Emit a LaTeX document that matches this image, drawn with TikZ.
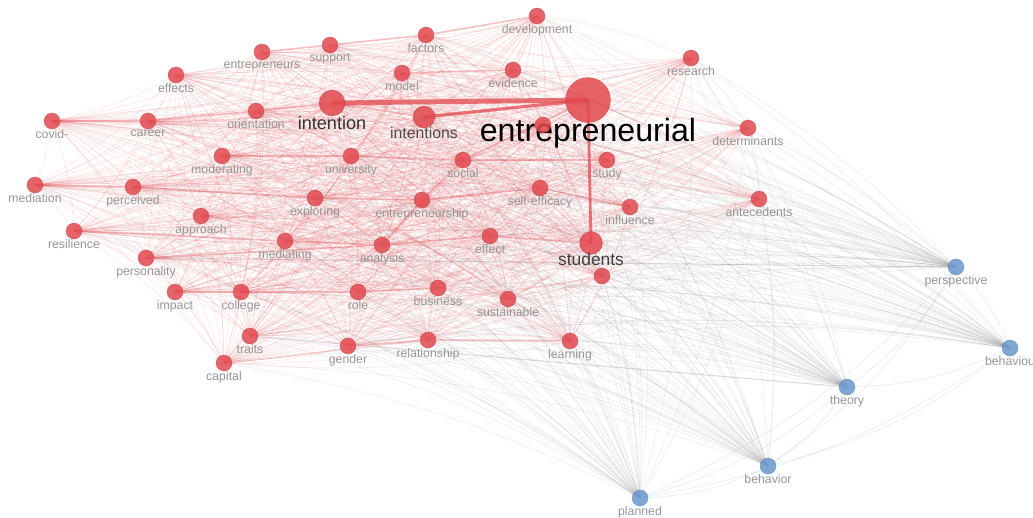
\documentclass[tikz,border=0pt]{standalone}
\usepackage{fontspec}
\setmainfont{Liberation Sans}
\usetikzlibrary{backgrounds}

\definecolor{kwred}{RGB}{226,72,78}
\definecolor{kwblue}{RGB}{104,152,204}
\definecolor{lblgray}{RGB}{150,150,150}
\definecolor{webgray}{RGB}{135,135,140}

\tikzset{
  kw/.style={circle, fill=kwred, fill opacity=.85, draw=kwred!70!black, draw opacity=.35,
    line width=.4pt, minimum size=.32cm, inner sep=0pt},
  kwb/.style={kw, fill=kwblue, draw=kwblue!70!black},
  lbl/.style={text=lblgray, font=\fontsize{7}{8}\selectfont, inner sep=0pt, text opacity=1},
  web/.style={draw=kwred, draw opacity=.13, line width=.35pt},
  grayweb/.style={draw=webgray, draw opacity=.15, line width=.35pt},
  blueweb/.style={draw=kwblue, draw opacity=.18, line width=.35pt},
  strong/.style={draw=kwred, draw opacity=.35, line width=.9pt},
  heavy/.style={draw=kwred, draw opacity=.75, line width=2.8pt},
  graystrong/.style={draw=webgray, draw opacity=.3, line width=.6pt},
}

\begin{document}
\begin{tikzpicture}[x=0.02cm, y=-0.02cm]
    \useasboundingbox (0,0) rectangle (1033,517);

    % red cluster
    \node[kw, label={[lbl]below:development}] (development) at (537,16) {};
    \node[kw, label={[lbl]below:research}] (research) at (691,58) {};
    \node[kw, label={[lbl]below:factors}] (factors) at (426,35) {};
    \node[kw, label={[lbl]below:support}] (support) at (330,45) {};
    \node[kw, label={[lbl]below:entrepreneurs}] (entrepreneurs) at (262,52) {};
    \node[kw, label={[lbl]below:effects}] (effects) at (176,75) {};
    \node[kw, label={[lbl]below:model}] (model) at (402,73) {};
    \node[kw, label={[lbl]below:evidence}] (evidence) at (513,70) {};
    \node[kw, minimum size=.52cm, label={[lbl, text=black!80, font=\fontsize{10.3}{12}\selectfont]below:intention}] (intention) at (332,103) {};
    \node[kw, minimum size=.44cm, label={[lbl, text=black!70, font=\fontsize{9}{11}\selectfont, label distance=-1pt]below:intentions}] (intentions) at (424,117) {};
    \node[kw, minimum size=.9cm, label={[lbl, text=black, font=\fontsize{18.3}{22}\selectfont, label distance=-3pt]below:entrepreneurial}] (entrepreneurial) at (588,100) {};
    \node[kw, label={[lbl]below:orientation}] (orientation) at (256,111) {};
    \node[kw, label={[lbl]below:covid-}] (covid) at (52,121) {};
    \node[kw, label={[lbl]below:career}] (career) at (148,121) {};
    \node[kw, label={[lbl]below:determinants}] (determinants) at (748,128) {};
    \node[kw] (hid1) at (543,125) {};
    \node[kw, label={[lbl]below:moderating}] (moderating) at (222,156) {};
    \node[kw, label={[lbl]below:university}] (university) at (351,156) {};
    \node[kw, label={[lbl]below:social}] (social) at (463,160) {};
    \node[kw, label={[lbl]below:study}] (study) at (607,160) {};
    \node[kw, label={[lbl]below:mediation}] (mediation) at (35,185) {};
    \node[kw, label={[lbl]below:perceived}] (perceived) at (133,187) {};
    \node[kw, label={[lbl]below:exploring}] (exploring) at (315,198) {};
    \node[kw, label={[lbl]below:entrepreneurship}] (entrepreneurship) at (422,200) {};
    \node[kw, label={[lbl]below:self-efficacy}] (selfefficacy) at (540,188) {};
    \node[kw, label={[lbl]below:influence}] (influence) at (630,207) {};
    \node[kw, label={[lbl]below:antecedents}] (antecedents) at (759,199) {};
    \node[kw, label={[lbl]below:approach}] (approach) at (201,216) {};
    \node[kw, label={[lbl]below:resilience}] (resilience) at (74,231) {};
    \node[kw, label={[lbl]below:mediating}] (mediating) at (285,241) {};
    \node[kw, label={[lbl]below:analysis}] (analysis) at (382,245) {};
    \node[kw, label={[lbl]below:effect}] (effect) at (490,236) {};
    \node[kw, minimum size=.46cm, label={[lbl, text=black!75, font=\fontsize{9.9}{12}\selectfont, label distance=-1.5pt]below:students}] (students) at (591,243) {};
    \node[kw, label={[lbl]below:personality}] (personality) at (146,258) {};
    \node[kw] (hid2) at (602,276) {};
    \node[kw, label={[lbl]below:impact}] (impact) at (175,292) {};
    \node[kw, label={[lbl]below:college}] (college) at (241,292) {};
    \node[kw, label={[lbl]below:role}] (role) at (358,292) {};
    \node[kw, label={[lbl]below:business}] (business) at (438,288) {};
    \node[kw, label={[lbl]below:sustainable}] (sustainable) at (508,299) {};
    \node[kw, label={[lbl]below:traits}] (traits) at (250,336) {};
    \node[kw, label={[lbl]below:gender}] (gender) at (348,346) {};
    \node[kw, label={[lbl]below:relationship}] (relationship) at (428,340) {};
    \node[kw, label={[lbl]below:learning}] (learning) at (570,341) {};
    \node[kw, label={[lbl]below:capital}] (capital) at (224,363) {};

    % blue cluster
    \node[kwb, label={[lbl]below:perspective}] (perspective) at (956,267) {};
    \node[kwb, label={[lbl]below:behaviou}] (behaviou) at (1010,348) {};
    \node[kwb, label={[lbl]below:theory}] (theory) at (847,387) {};
    \node[kwb, label={[lbl]below:behavior}] (behavior) at (768,466) {};
    \node[kwb, label={[lbl]below:planned}] (planned) at (640,498) {};

    \def\redkw{development,research,factors,support,entrepreneurs,effects,model,evidence,
      intention,intentions,entrepreneurial,orientation,covid,career,determinants,hid1,
      moderating,university,social,study,mediation,perceived,exploring,entrepreneurship,
      selfefficacy,influence,antecedents,approach,resilience,mediating,analysis,effect,
      students,personality,hid2,impact,college,role,business,sustainable,traits,gender,
      relationship,learning,capital}
    \def\bluekw{perspective,behaviou,theory,behavior,planned}

    \begin{pgfonlayer}{background}
    % links of the blue terms
    \foreach \a in \bluekw {
      \foreach \b in \redkw {
        \draw[grayweb] (\a.center) to[bend right=8] (\b.center);
      }
    }
    \foreach \a [count=\i] in \bluekw {
      \foreach \b [count=\j] in \bluekw {
        \ifnum\j>\i \draw[blueweb] (\a.center) to[bend left=12] (\b.center); \fi
      }
    }
    \draw[graystrong] (perspective.center) -- (personality.center);
    \draw[graystrong] (theory.center) -- (traits.center);

    % links inside the red cluster
    \foreach \a [count=\i] in \redkw {
      \foreach \b [count=\j] in \redkw {
        \ifnum\j>\i \draw[web] (\a.center) to[bend left=8] (\b.center); \fi
      }
    }

    \draw[heavy] (intention.center) -- (entrepreneurial.center);
    \draw[heavy, line width=1.6pt] (entrepreneurial.center) -- (students.center);
    \draw[heavy, line width=1.8pt] (intentions.center) -- (entrepreneurial.center);

    \draw[strong] (intention) -- (intentions);
    \draw[strong] (orientation) -- (intention);
    \draw[strong] (covid) -- (career);
    \draw[strong] (career) -- (orientation);
    \draw[strong] (entrepreneurs) -- (support);
    \draw[strong] (support) -- (factors);
    \draw[strong] (factors) -- (development);
    \draw[strong] (model) -- (evidence);
    \draw[strong] (moderating) -- (university);
    \draw[strong] (university) -- (social);
    \draw[strong] (social) -- (study);
    \draw[strong] (social) -- (entrepreneurial);
    \draw[strong] (social) -- (entrepreneurship);
    \draw[strong] (entrepreneurship) -- (analysis);
    \draw[strong] (mediation) -- (perceived);
    \draw[strong] (perceived) -- (exploring);
    \draw[strong] (exploring) -- (entrepreneurship);
    \draw[strong] (selfefficacy) -- (entrepreneurship);
    \draw[strong] (influence) -- (selfefficacy);
    \draw[strong] (resilience) -- (mediating);
    \draw[strong] (mediating) -- (analysis);
    \draw[strong] (analysis) -- (effect);
    \draw[strong] (effect) -- (students);
    \draw[strong] (personality) -- (analysis);
    \draw[strong] (impact) -- (college);
    \draw[strong] (college) -- (role);
    \draw[strong] (role) -- (business);
    \draw[strong] (gender) -- (relationship);
    \draw[strong] (relationship) -- (learning);
    \draw[strong, draw opacity=.2] (capital) -- (relationship);
    \end{pgfonlayer}

\end{tikzpicture}
\end{document}
